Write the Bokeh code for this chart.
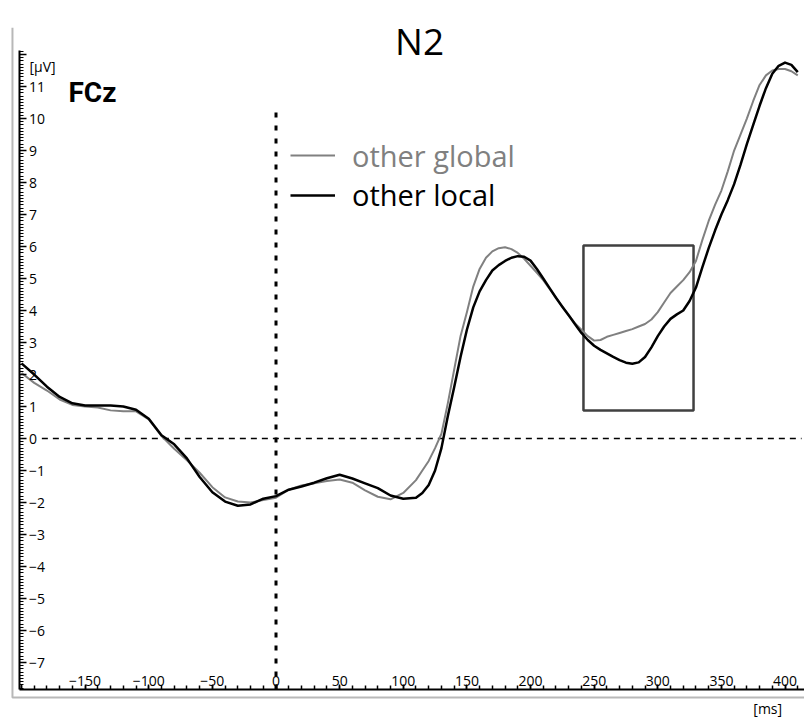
from bokeh.plotting import figure
from bokeh.models import (Range1d, LinearAxis, SingleIntervalTicker, Legend,
                          LegendItem, Label)
from bokeh.embed import file_html
from bokeh.resources import INLINE

# ---- data ----
time_ms = list(range(-200, 110, 10)) + list(range(110, 411, 5))

other_global = [
    2.05, 1.74, 1.5, 1.22, 1.05, 1.0, 0.97, 0.88, 0.85, 0.85,
    0.6, 0.08, -0.32, -0.68, -1.07, -1.52, -1.84, -1.97, -2.0, -1.92,
    -1.85, -1.6, -1.47, -1.4, -1.33, -1.28, -1.38, -1.62, -1.82, -1.9,
    -1.7,
    # 110 .. 410 ms, every 5 ms
    -1.3, -1.0, -0.7, -0.3, 0.15, 1.1, 2.15, 3.2, 3.95, 4.75,
    5.3, 5.65, 5.85, 5.95, 5.98, 5.92, 5.8, 5.62, 5.4, 5.18,
    4.95, 4.68, 4.4, 4.12, 3.85, 3.6, 3.4, 3.2, 3.06, 3.08,
    3.18, 3.24, 3.3, 3.36, 3.42, 3.5, 3.58, 3.72, 3.95, 4.25,
    4.55, 4.75, 4.95, 5.2, 5.55, 6.2, 6.8, 7.3, 7.75, 8.35,
    9.0, 9.5, 10.0, 10.55, 11.05, 11.35, 11.5, 11.55, 11.55, 11.48,
    11.35,
]

other_local = [
    2.35, 2.0, 1.62, 1.3, 1.1, 1.03, 1.03, 1.03, 1.0, 0.9,
    0.62, 0.1, -0.18, -0.62, -1.2, -1.68, -1.97, -2.1, -2.06, -1.88,
    -1.8, -1.6, -1.5, -1.38, -1.24, -1.13, -1.25, -1.4, -1.55, -1.78,
    -1.88,
    # 110 .. 410 ms, every 5 ms
    -1.85, -1.7, -1.45, -1.0, -0.3, 0.7, 1.6, 2.55, 3.4, 4.1,
    4.6, 4.95, 5.25, 5.42, 5.55, 5.65, 5.7, 5.68, 5.56, 5.3,
    5.0, 4.7, 4.4, 4.12, 3.85, 3.57, 3.3, 3.08, 2.9, 2.77,
    2.66, 2.55, 2.45, 2.37, 2.34, 2.38, 2.55, 2.85, 3.2, 3.5,
    3.74, 3.88, 4.0, 4.3, 4.72, 5.35, 5.95, 6.5, 7.0, 7.45,
    7.95, 8.55, 9.2, 9.8, 10.4, 10.95, 11.4, 11.65, 11.75, 11.68,
    11.45,
]

series_labels = ["other global", "other local"]
title_text = "N2"
channel_text = "FCz"
y_unit = "[\u00b5V]"
x_unit = "[ms]"
x_tick_step = 50
y_tick_step = 1
# highlighted window (ms) and amplitude span (uV)
box_ms = [241.6, 328.1]
box_uv = [0.875, 6.03]

# ---- figure ----
p = figure(width=804, height=718,
           x_range=Range1d(-216.5, 415.3), y_range=Range1d(-8.75, 13.69),
           output_backend="svg", toolbar_location=None,
           x_axis_location=None, y_axis_location=None,
           min_border=0, title=None, outline_line_color=None)
p.grid.visible = False
p.background_fill_color = "white"
p.border_fill_color = "white"

TICK_FONT = "Open Sans"

yax = LinearAxis(fixed_location=-201.2, bounds=(-7.84, 12.12),
                 ticker=SingleIntervalTicker(interval=y_tick_step, num_minor_ticks=10),
                 major_tick_in=0, major_tick_out=7, minor_tick_in=0, minor_tick_out=4,
                 major_label_standoff=2, major_label_overrides={12: ""},
                 axis_line_width=2, axis_line_color="black",
                 major_tick_line_width=1.5, minor_tick_line_width=1,
                 major_label_text_font=TICK_FONT, major_label_text_font_size="14px",
                 major_label_text_color="black")
p.add_layout(yax, "right")

xax = LinearAxis(fixed_location=-7.84, bounds=(-201.2, 415.3),
                 ticker=SingleIntervalTicker(interval=x_tick_step, num_minor_ticks=5),
                 major_tick_in=0, major_tick_out=5, minor_tick_in=0, minor_tick_out=4,
                 major_label_standoff=-2, major_label_overrides={-200: ""},
                 axis_line_width=2, axis_line_color="black",
                 major_tick_line_width=1.5, minor_tick_line_width=1.5,
                 major_label_text_font=TICK_FONT, major_label_text_font_size="14px",
                 major_label_text_color="black")
p.add_layout(xax, "above")

# outer light-grey frame
p.line([-207.1, -207.1, 415.3], [12.84, -8.09, -8.09], line_color="#b8b8b8", line_width=2)

# reference lines
p.segment(x0=[-184], y0=[0], x1=[413], y1=[0], line_color="black",
          line_width=1.5, line_dash="6 5")
p.segment(x0=[0], y0=[-7.84], x1=[0], y1=[10.4], line_color="black",
          line_width=3, line_dash="5 8")

# highlighted window
p.quad(left=[box_ms[0]], right=[box_ms[1]], bottom=[box_uv[0]], top=[box_uv[1]],
       fill_color=None, line_color="#404040", line_width=2.5)

r_g = p.line(time_ms, other_global, line_color="#808080", line_width=2,
             line_join="round")
r_l = p.line(time_ms, other_local, line_color="black", line_width=2.5,
             line_join="round")

common = dict(glyph_width=45, glyph_height=44, label_height=44, label_standoff=17,
              padding=0, margin=0, spacing=0, border_line_alpha=0,
              background_fill_alpha=0, label_text_font="Open Sans",
              label_text_font_size="29px")
leg_g = Legend(items=[LegendItem(label=series_labels[0], renderers=[r_g])],
               location=(290, 541), label_text_color="#808080", **common)
leg_l = Legend(items=[LegendItem(label=series_labels[1], renderers=[r_l])],
               location=(290, 501.5), label_text_color="black", **common)
p.add_layout(leg_g)
p.add_layout(leg_l)

p.add_layout(Label(x=112.8, y=12.44, text=title_text, text_font="Open Sans",
                   text_font_size="37px", text_align="center",
                   text_baseline="alphabetic", text_color="black"))
p.add_layout(Label(x=-163.1, y=10.81, text=channel_text, text_font="Roboto",
                   text_font_style="bold", text_font_size="28px",
                   text_align="left", text_baseline="alphabetic", text_color="black"))
p.add_layout(Label(x=-193.7, y=11.63, text=y_unit, text_font=TICK_FONT,
                   text_font_size="14px", text_align="left",
                   text_baseline="alphabetic", text_color="black"))
p.add_layout(Label(x=386.4, y=-8.44, text=x_unit, text_font=TICK_FONT,
                   text_font_size="14px", text_align="center",
                   text_baseline="alphabetic", text_color="black"))

open("out.html", "w").write(file_html(p, INLINE))
